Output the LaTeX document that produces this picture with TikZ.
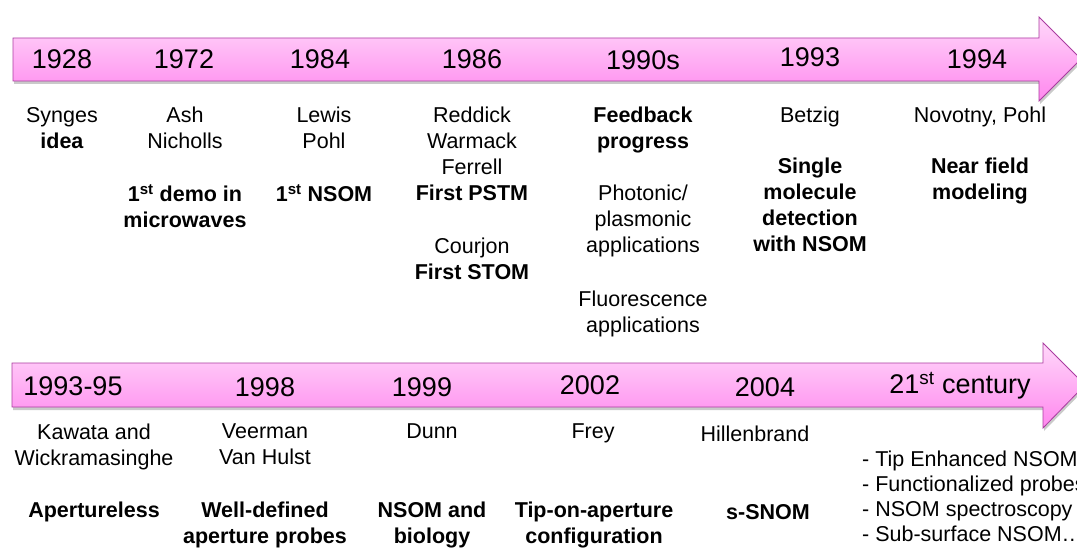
\documentclass[tikz,border=0pt]{standalone}
\usepackage{fontspec}
\setmainfont{Liberation Sans}
\usetikzlibrary{shadows}
\definecolor{arrtop}{RGB}{255,216,250}
\definecolor{arrbot}{RGB}{255,135,238}
\definecolor{arredge}{RGB}{170,60,160}
\begin{document}
\begin{tikzpicture}[x=1pt,y=-1pt,
  tarrow/.style={draw=arredge,line width=0.8pt,top color=arrtop,bottom color=arrbot,
    drop shadow={opacity=0.35,shadow xshift=1pt,shadow yshift=-3pt,fill=black!60}},
  year/.style={font=\fontsize{27}{32}\selectfont,inner sep=0pt,anchor=center},
  txt/.style={font=\fontsize{21.5}{25.8}\selectfont,align=center,inner sep=0pt,anchor=north},
  btxt/.style={txt,font=\fontsize{21.5}{25.8}\selectfont\bfseries},
  ltxt/.style={font=\fontsize{21.5}{25}\selectfont,align=left,inner sep=0pt,anchor=north west}]
\useasboundingbox (0,0) rectangle (1077,548);
\begin{scope}
\clip (0,0) rectangle (1077,548);
\path[tarrow] (13,38) -- (1039,38) -- (1039,17) -- (1081,59) -- (1039,101) -- (1039,81) -- (13,81) -- cycle;
\path[tarrow] (12,363) -- (1043,363) -- (1043,343) -- (1085,385) -- (1043,428) -- (1043,407) -- (12,407) -- cycle;
\end{scope}
% row 1 years
\node[year] (y1928) at (62,59) {1928};
\node[year] (y1972) at (184,59) {1972};
\node[year] (y1984) at (320,59) {1984};
\node[year] (y1986) at (472,59) {1986};
\node[year] (y1990) at (643,60) {1990s};
\node[year] (y1993) at (810,57) {1993};
\node[year] (y1994) at (977,59) {1994};
% row 1 texts
\node[txt] (t1a) at (62,107) {Synges\\\textbf{idea}};
\node[txt] (t2a) at (185,107) {Ash\\Nicholls};
\node[btxt] (t2b) at (185,184) {1\textsuperscript{st} demo in\\microwaves};
\node[txt] (t3a) at (324,107) {Lewis\\Pohl};
\node[btxt] (t3b) at (324,184) {1\textsuperscript{st} NSOM};
\node[txt] (t4a) at (472,107) {Reddick\\Warmack\\Ferrell\\\textbf{First PSTM}};
\node[txt] (t4b) at (472,238) {Courjon\\\textbf{First STOM}};
\node[btxt] (t5a) at (643,107) {Feedback\\progress};
\node[txt] (t5b) at (643,185) {Photonic/\\plasmonic\\applications};
\node[txt] (t5c) at (643,291) {Fluorescence\\applications};
\node[txt] (t6a) at (810,107) {Betzig};
\node[btxt] (t6b) at (810,158) {Single\\molecule\\detection\\with NSOM};
\node[txt] (t7a) at (980,107) {Novotny, Pohl};
\node[btxt] (t7b) at (980,158) {Near field\\modeling};
% row 2 years
\node[year] (y9395) at (73,386) {1993-95};
\node[year] (y1998) at (265,387) {1998};
\node[year] (y1999) at (422,387) {1999};
\node[year] (y2002) at (590,385) {2002};
\node[year] (y2004) at (765,387) {2004};
\node[year] (y21) at (960,386) {21\textsuperscript{st} century};
% row 2 texts
\node[txt] (u1a) at (94,424) {Kawata and\\Wickramasinghe};
\node[btxt] (u1b) at (94,502) {Apertureless};
\node[txt] (u2a) at (265,424) {Veerman\\Van Hulst};
\node[btxt] (u2b) at (265,502) {Well-defined\\aperture probes};
\node[txt] (u3a) at (432,424) {Dunn};
\node[btxt] (u3b) at (432,502) {NSOM and\\biology};
\node[txt] (u4a) at (593,424) {Frey};
\node[btxt] (u4b) at (594,502) {Tip-on-aperture\\configuration};
\node[txt] (u5a) at (755,426) {Hillenbrand};
\node[btxt] (u5b) at (768,504) {s-SNOM};
\begin{scope}
\clip (0,0) rectangle (1077,548);
\node[ltxt] (u6) at (862,451) {- Tip Enhanced NSOM\\- Functionalized probes\\- NSOM spectroscopy\\- Sub-surface NSOM\dots};
\end{scope}
\end{tikzpicture}
\end{document}
